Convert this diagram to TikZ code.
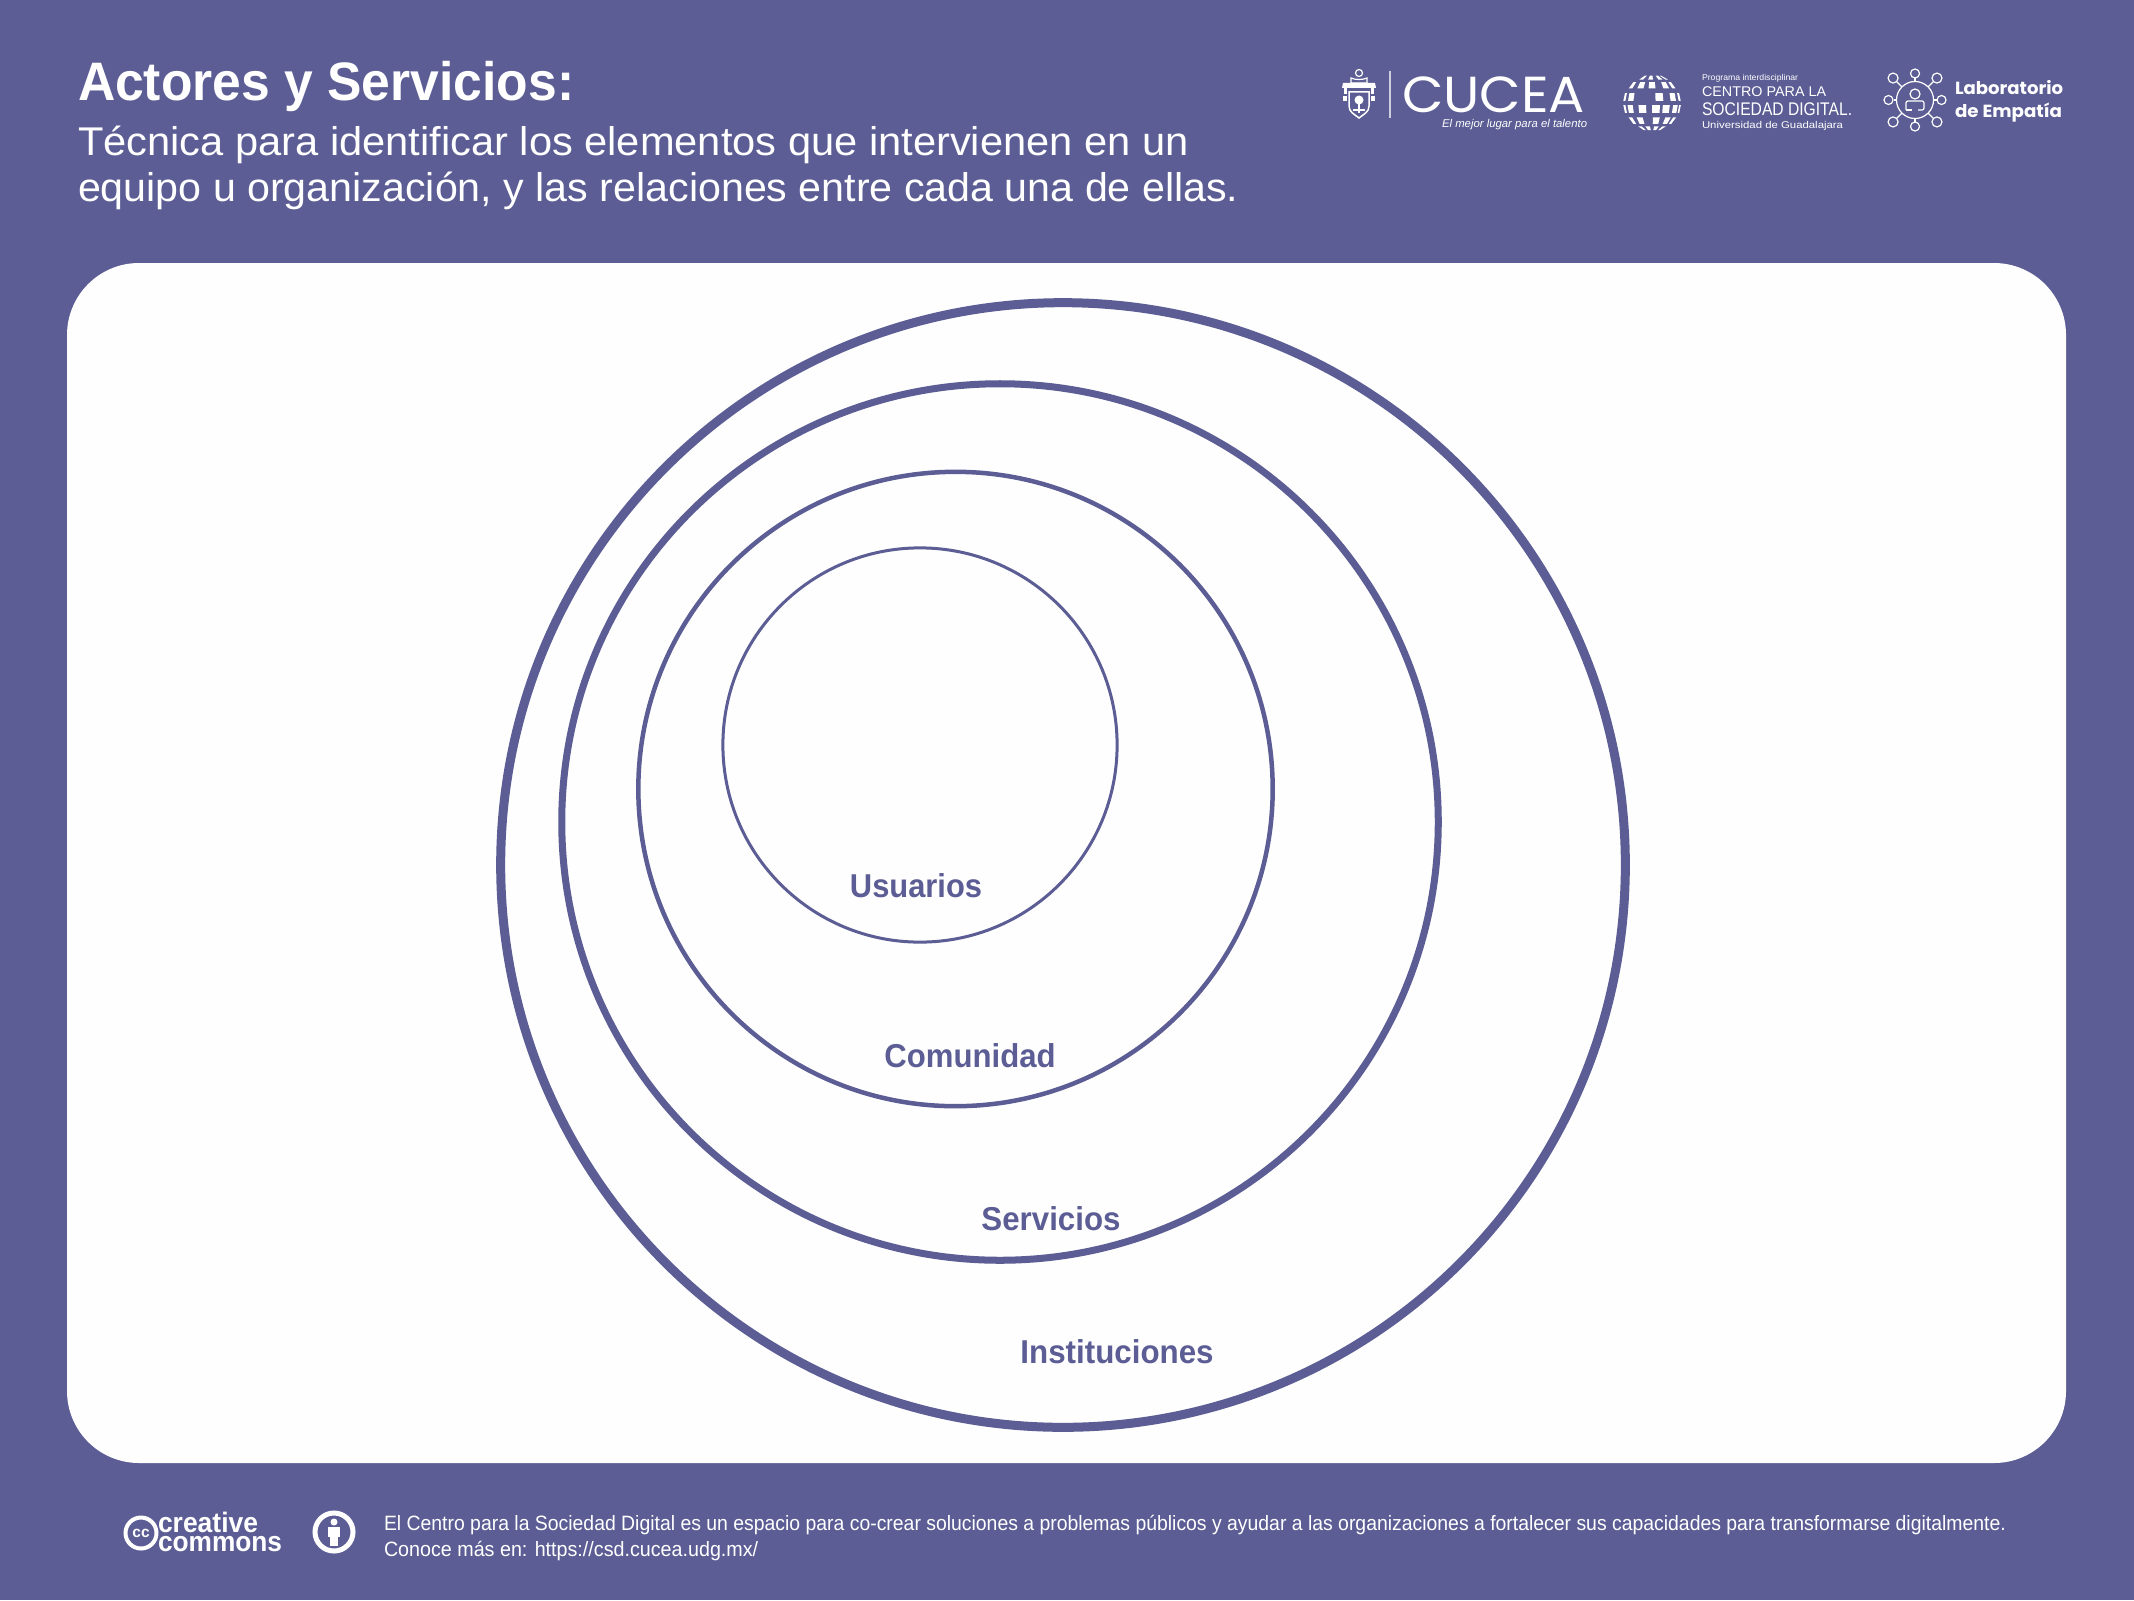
\documentclass[tikz,border=0pt]{standalone}
\usepackage{fontspec}
\usepackage{graphicx}
\setmainfont{Liberation Sans}
\newfontfamily\logofont{Poppins}
\definecolor{brand}{HTML}{5B5D94}
\definecolor{paper}{HTML}{FEFEFE}
\newsavebox\fitbox
\newcommand\fitw[2]{\sbox\fitbox{#2}\pgfmathsetmacro\fitr{#1*0.284528/\the\wd\fitbox}\scalebox{\fitr}[1]{\usebox\fitbox}}
\tikzset{
  txt/.style={anchor=base west,inner sep=0pt,outer sep=0pt,text=white},
  lab/.style={anchor=center,inner sep=0pt,text=brand,font=\bfseries\fontsize{9.4}{11}\selectfont},
  ring/.style={draw=brand,fill=none},
  wl/.style={draw=white,line width=0.012cm,fill=none},
}
\begin{document}
\begin{tikzpicture}[x=0.01cm,y=-0.01cm]
\useasboundingbox (0,0) rectangle (2134,1600);
\fill[brand] (0,0) rectangle (2134,1600);
\fill[paper,rounded corners=0.72cm] (67,263) rectangle (2066,1463);
% rings
\draw[ring,line width=0.09cm] (1063,865) circle[radius=5.62cm];
\draw[ring,line width=0.07cm] (1000,822) circle[radius=4.38cm];
\draw[ring,line width=0.045cm] (955.5,789) circle[radius=3.17cm];
\draw[ring,line width=0.03cm] (920,745) circle[radius=1.97cm];
\node[lab] (usuarios) at (916,886) {\fitw{132}{Usuarios}};
\node[lab] (comunidad) at (970,1056) {\fitw{171}{Comunidad}};
\node[lab] (servicios) at (1051,1219) {\fitw{139}{Servicios}};
\node[lab] (instituciones) at (1117,1352) {\fitw{193}{Instituciones}};
% heading
\node[txt,font=\bfseries\fontsize{15.4}{18}\selectfont] (title) at (78,100.7) {\fitw{496}{Actores y Servicios:}};
\node[txt,font=\fontsize{11.4}{14}\selectfont] (sub1) at (78,156) {\fitw{1110}{Técnica para identificar los elementos que intervienen en un}};
\node[txt,font=\fontsize{11.4}{14}\selectfont] (sub2) at (78,202) {\fitw{1160}{equipo u organización, y las relaciones entre cada una de ellas.}};
% crest
\begin{scope}[shift={(1359,95)}]
  \draw[wl] (0,-22) circle[radius=0.035cm];
  \draw[wl] (-8,-17) .. controls (-4,-15) and (4,-15) .. (8,-17) -- (8,-12) -- (-8,-12) -- cycle;
  \fill[white] (-16,-12) -- (16,-12) -- (17,-7) -- (-17,-7) -- cycle;
  \fill[white] (-15,-7) rectangle (-12,-1);
  \fill[white] (12,-7) rectangle (15,-1);
  \fill[white] (-16,1) rectangle (-12,6);
  \fill[white] (12,1) rectangle (16,6);
  \draw[wl,line width=0.015cm] (-10,-3) -- (10,-3) -- (10,11) .. controls (10,17) and (5,19) .. (0,23) .. controls (-5,19) and (-10,17) .. (-10,11) -- cycle;
  \fill[white] (0,5) circle[radius=0.045cm];
  \draw[wl] (0,9) -- (0,18);
  \draw[wl] (-6,15) -- (6,15);
\end{scope}
\draw[white,opacity=0.7,line width=0.012cm] (1390,71) -- (1390,118);
\node[txt,font=\logofont\fontsize{14.4}{16}\selectfont] (cucea) at (1402,113) {\fitw{183}{CUCEA}};
\node[txt,font=\itshape\fontsize{3.2}{4}\selectfont] (tag) at (1442,128) {\fitw{145}{El mejor lugar para el talento}};
% globe
\begin{scope}[shift={(1652,103)}]
  \foreach \la/\lst in {-62/{-40,-5,30,60},-38/{-60,-28,0,35,62},-12/{-75,-48,15,48,75},12/{-75,-50,-20,8,30,55,78},38/{-60,-30,10,40,65},62/{-45,-15,15,45}}{
    \foreach \lo in \lst {
      \fill[white] ({29*cos(\la-8)*sin(\lo-8)},{29*sin(\la-8)}) -- ({29*cos(\la-8)*sin(\lo+8)},{29*sin(\la-8)}) -- ({29*cos(\la+8)*sin(\lo+8)},{29*sin(\la+8)}) -- ({29*cos(\la+8)*sin(\lo-8)},{29*sin(\la+8)}) -- cycle;
    }
  }
\end{scope}
\node[txt,font=\fontsize{2.4}{3}\selectfont] (prog) at (1702,81) {\fitw{96}{Programa interdisciplinar}};
\node[txt,font=\fontsize{4}{5}\selectfont] (centro) at (1702,97) {\fitw{124}{CENTRO PARA LA}};
\node[txt,font=\fontsize{5.2}{6}\selectfont] (soc) at (1702,116) {\fitw{150}{SOCIEDAD DIGITAL.}};
\node[txt,font=\fontsize{2.8}{3}\selectfont] (udg) at (1702,129) {\fitw{141}{Universidad de Guadalajara}};
% network icon
\begin{scope}[shift={(1915,100)}]
  \draw[wl] (0,0) circle[radius=0.185cm];
  \draw[wl] (0,-6) circle[radius=0.05cm];
  \draw[wl,rounded corners=0.02cm] (-9,10) -- (-9,1) -- (9,1) -- (9,10) -- (3,10);
  \draw[wl] (-9,10) -- (-3,10);
  \foreach \a in {0,90,180,270}{
    \draw[wl] (\a:0.185cm) -- (\a:0.215cm);
    \draw[wl] (\a:0.265cm) circle[radius=0.045cm];
  }
  \foreach \a in {45,135,225,315}{
    \draw[wl] (\a:0.185cm) -- (\a:0.255cm);
    \draw[wl] (\a:0.31cm) circle[radius=0.05cm];
  }
\end{scope}
\node[txt,font=\logofont\bfseries\fontsize{5}{6}\selectfont] (lab1) at (1955,95) {\fitw{108}{Laboratorio}};
\node[txt,font=\logofont\bfseries\fontsize{5}{6}\selectfont] (lab2) at (1955,117) {\fitw{107}{de Empatía}};
% footer
\draw[white,line width=0.04cm] (141,1533) circle[radius=0.155cm];
\node[anchor=center,inner sep=0pt,text=white,font=\bfseries\fontsize{4.4}{5}\selectfont] (cc) at (141,1533) {cc};
\node[txt,font=\bfseries\fontsize{8}{9}\selectfont] (cre) at (158,1532) {\fitw{100}{creative}};
\node[txt,font=\bfseries\fontsize{8}{9}\selectfont] (com) at (158,1551) {\fitw{124}{commons}};
\draw[white,line width=0.05cm] (334,1532) circle[radius=0.19cm];
\fill[white] (334,1522) circle[radius=0.035cm];
\fill[white] (328,1527) rectangle (340,1537);
\fill[white] (330,1537) rectangle (338,1546);
\node[txt,font=\fontsize{5.9}{7}\selectfont] (foot1) at (384,1530.5) {\fitw{1621}{El Centro para la Sociedad Digital es un espacio para co-crear soluciones a problemas públicos y ayudar a las organizaciones a fortalecer sus capacidades para transformarse digitalmente.}};
\node[txt,font=\fontsize{5.9}{7}\selectfont] (foot2) at (384,1556.5) {\fitw{374}{Conoce más en: https://csd.cucea.udg.mx/}};
\end{tikzpicture}
\end{document}
